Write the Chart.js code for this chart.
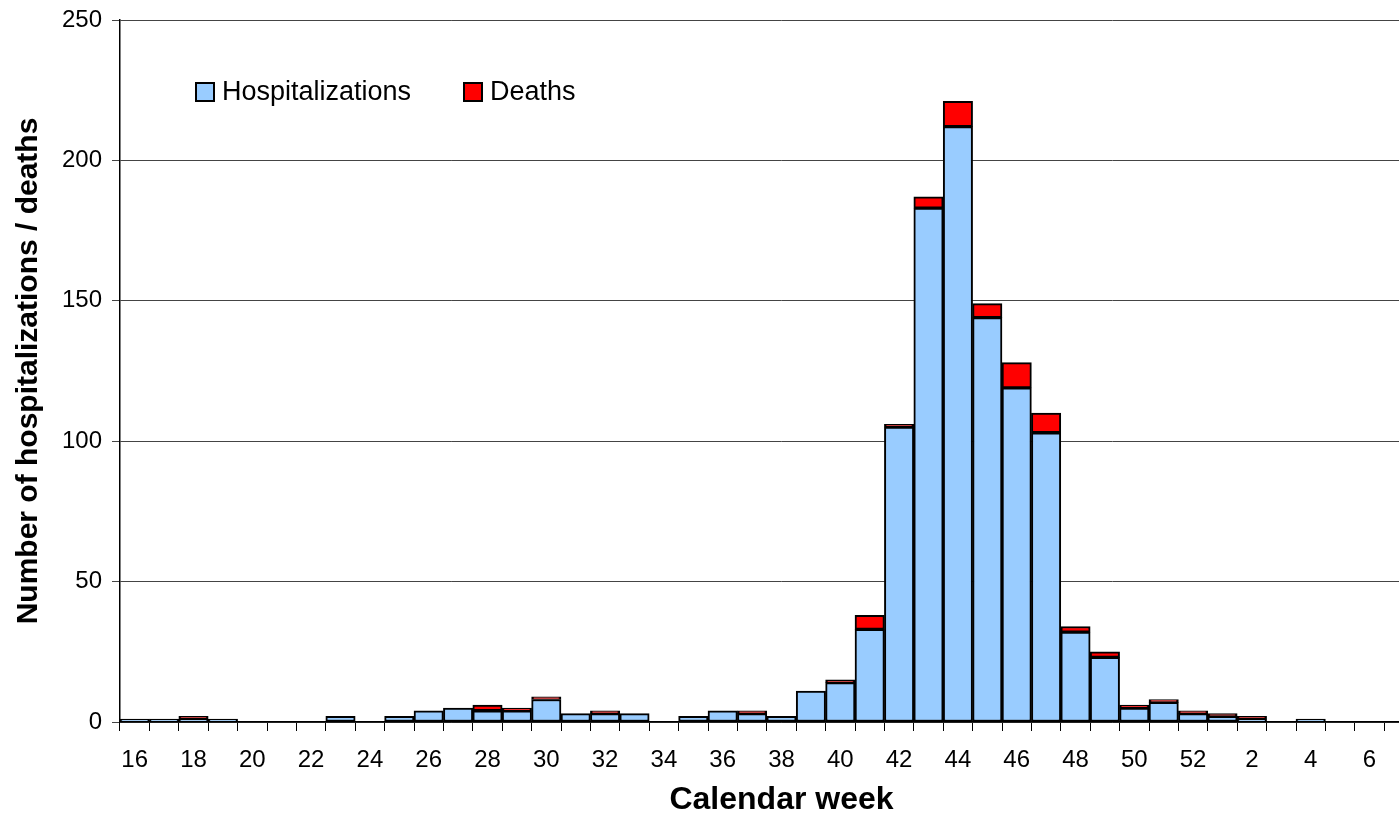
<!DOCTYPE html>
<html>
<head>
<meta charset="utf-8">
<script src="https://cdn.jsdelivr.net/npm/chart.js@4"></script>
<style>
  html, body { margin: 0; padding: 0; background: #fff; overflow: hidden; }
  #wrap { width: 1399px; height: 819px; overflow: hidden; }
</style>
</head>
<body>
<div id="wrap"><canvas id="weekChart" width="1443" height="819"></canvas></div>
<script>
// WEEKLY DATA
const weeks = [16, 17, 18, 19, 20, 21, 22, 23, 24, 25, 26, 27, 28, 29, 30, 31, 32, 33, 34, 35, 36, 37,
    38, 39, 40, 41, 42, 43, 44, 45, 46, 47, 48, 49, 50, 51, 52, 1, 2, 3, 4, 5, 6, 7, 8];
const hospitalizations = [1, 1, 1, 1, 0, 0, 0, 2, 0, 2, 4, 5, 4, 4, 8, 3, 3, 3, 0, 2, 4, 3,
    2, 11, 14, 33, 105, 183, 212, 144, 119, 103, 32, 23, 5, 7, 3, 2, 1, 0, 1, 0, 0, 0, 0];
const deaths = [0, 0, 1, 0, 0, 0, 0, 0, 0, 0, 0, 0, 2, 1, 1, 0, 1, 0, 0, 0, 0, 1,
    0, 0, 1, 5, 1, 4, 9, 5, 9, 7, 2, 2, 1, 1, 1, 1, 1, 0, 0, 0, 0, 0, 0];
const yTicks = [0, 50, 100, 150, 200, 250];

Chart.defaults.font.family = '"Liberation Sans", Arial, sans-serif';
Chart.defaults.color = '#000';

// legend drawn inside the plot, top left
const insideLegend = {
    id: 'insideLegend',
    afterDraw(chart) {
        const ctx = chart.ctx;
        const spots = [196, 464];
        ctx.save();
        ctx.font = '27px "Liberation Sans", Arial, sans-serif';
        ctx.textBaseline = 'middle';
        chart.data.datasets.forEach((ds, i) => {
            const x = spots[i];
            ctx.fillStyle = ds.backgroundColor;
            ctx.fillRect(x, 83, 18, 18);
            ctx.strokeStyle = '#000';
            ctx.lineWidth = 2;
            ctx.strokeRect(x, 83, 18, 18);
            ctx.fillStyle = '#000';
            ctx.fillText(ds.label, x + 26, 93);
        });
        ctx.restore();
    }
};

const ctx = document.getElementById('weekChart');

new Chart(ctx, {
    type: 'bar',
    data: {
        labels: weeks.map(String),
        datasets: [{
            label: 'Hospitalizations',
            data: hospitalizations,
            backgroundColor: '#99CCFF',
            borderColor: '#000',
            borderWidth: 2,
            borderSkipped: false,
            categoryPercentage: 1,
            barPercentage: 1
        }, {
            label: 'Deaths',
            data: deaths,
            backgroundColor: '#FF0000',
            borderColor: '#000',
            borderWidth: 2,
            borderSkipped: false,
            categoryPercentage: 1,
            barPercentage: 1
        }]
    },
    options: {
        responsive: false,
        animation: false,
        devicePixelRatio: 1,
        layout: { padding: { top: 20, right: 0, bottom: 0, left: 0 } },
        scales: {
            x: {
                stacked: true,
                offset: true,
                afterFit(scale) {
                    scale.height = 97;
                    scale.paddingLeft = 0;
                    scale.paddingRight = 0;
                },
                grid: {
                    offset: true,
                    drawOnChartArea: false,
                    drawTicks: true,
                    tickLength: 9,
                    color: '#000',
                    lineWidth: 1
                },
                border: { color: '#000', width: 1.5 },
                ticks: {
                    autoSkip: false,
                    maxRotation: 0,
                    padding: 15,
                    font: { size: 24 },
                    callback(value, index) {
                        const w = weeks[index];
                        return (w % 2 === 0 && w !== 8) ? String(w) : '';
                    }
                },
                title: {
                    display: true,
                    text: 'Calendar week',
                    font: { size: 32, weight: 'bold' },
                    padding: { top: 0, bottom: 0 }
                }
            },
            y: {
                stacked: true,
                min: 0,
                max: 250,
                afterFit(scale) {
                    scale.width = 120;
                    scale.paddingTop = 0;
                    scale.paddingBottom = 0;
                },
                afterBuildTicks(scale) { scale.ticks = yTicks.map(v => ({ value: v })); },
                grid: {
                    color: '#444',
                    lineWidth: 1,
                    drawTicks: true,
                    tickLength: 8
                },
                border: { color: '#000', width: 1.5 },
                ticks: {
                    padding: 10,
                    font: { size: 24 }
                },
                title: {
                    display: true,
                    text: 'Number of hospitalizations / deaths',
                    font: { size: 30, weight: 'bold' },
                    padding: { top: 11, bottom: 0 }
                }
            }
        },
        plugins: {
            legend: { display: false },
            tooltip: { enabled: false }
        }
    },
    plugins: [insideLegend]
});
</script>
</body>
</html>
